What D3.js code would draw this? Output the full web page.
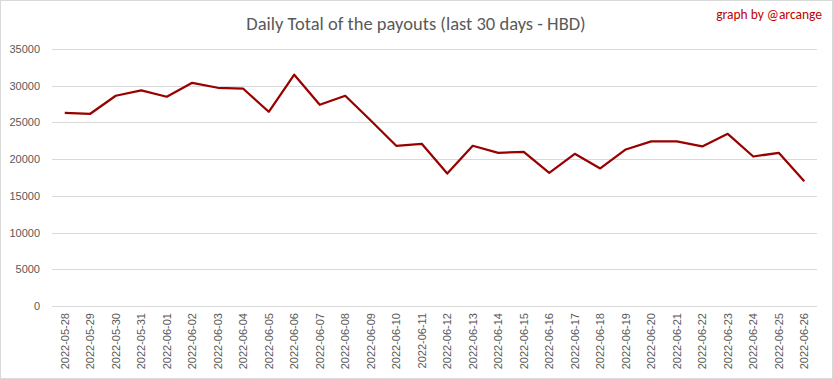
<!DOCTYPE html>
<html>
<head>
<meta charset="utf-8">
<script src="https://cdn.jsdelivr.net/npm/d3@7"></script>
<style>
  body { margin: 0; background: #fff; }
  svg { display: block; font-family: Carlito, Calibri, "Open Sans", sans-serif; }
</style>
</head>
<body>
<div id="chart"></div>
<script>
(function () {
  'use strict';

  // chart data
  var dates = [
    '2022-05-28', '2022-05-29', '2022-05-30', '2022-05-31', '2022-06-01', '2022-06-02',
    '2022-06-03', '2022-06-04', '2022-06-05', '2022-06-06', '2022-06-07', '2022-06-08',
    '2022-06-09', '2022-06-10', '2022-06-11', '2022-06-12', '2022-06-13', '2022-06-14',
    '2022-06-15', '2022-06-16', '2022-06-17', '2022-06-18', '2022-06-19', '2022-06-20',
    '2022-06-21', '2022-06-22', '2022-06-23', '2022-06-24', '2022-06-25', '2022-06-26'
  ];
  var payouts = [
    26300, 26180, 28630, 29360, 28500, 30400,
    29720, 29590, 26450, 31500, 27400, 28630,
    25270, 21820, 22090, 18040, 21820, 20860,
    21000, 18130, 20730, 18730, 21320, 22410,
    22410, 21730, 23450, 20360, 20860, 17000
  ];
  var yTicks = [0, 5000, 10000, 15000, 20000, 25000, 30000, 35000];

  var width = 833;
  var height = 379;
  var margin = { top: 49, right: 16, bottom: 73, left: 52 };

  var svg = d3.select('#chart').append('svg')
    .attr('width', width)
    .attr('height', height);

  // outer chart border
  svg.append('rect')
    .attr('x', 0.5).attr('y', 0.5)
    .attr('width', width - 1).attr('height', height - 1)
    .attr('fill', '#fff')
    .attr('stroke', '#d9d9d9');

  var x = d3.scaleBand()
    .domain(dates)
    .range([margin.left, width - margin.right]);

  var y = d3.scaleLinear()
    .domain([0, 35000])
    .range([height - margin.bottom, margin.top]);

  // gridlines
  svg.append('g')
    .selectAll('line')
    .data(yTicks)
    .enter()
    .append('line')
    .attr('x1', margin.left)
    .attr('x2', width - margin.right)
    .attr('y1', function (d) { return Math.round(y(d)) + 0.5; })
    .attr('y2', function (d) { return Math.round(y(d)) + 0.5; })
    .attr('stroke', '#d9d9d9')
    .attr('stroke-width', 1);

  // y axis labels
  var yAxis = d3.axisLeft(y).tickValues(yTicks).tickFormat(d3.format('d')).tickSize(0).tickPadding(12);
  var gy = svg.append('g')
    .attr('transform', 'translate(' + margin.left + ',0)')
    .call(yAxis);
  gy.select('.domain').remove();
  gy.selectAll('text')
    .attr('fill', '#595959')
    .style('font-size', '11px');

  // x axis labels, rotated
  var xAxis = d3.axisBottom(x).tickSize(0).tickPadding(0);
  var gx = svg.append('g')
    .attr('transform', 'translate(0,' + (height - margin.bottom) + ')')
    .call(xAxis);
  gx.select('.domain').remove();
  gx.selectAll('text')
    .attr('fill', '#595959')
    .style('font-size', '11px')
    .attr('text-anchor', 'end')
    .attr('dy', '0.35em')
    .attr('transform', 'translate(0,7) rotate(-90)')
    .attr('x', 0)
    .attr('y', 0);

  // series line
  var line = d3.line()
    .x(function (d, i) { return x(dates[i]) + x.bandwidth() / 2; })
    .y(function (d) { return y(d); });

  svg.append('path')
    .datum(payouts)
    .attr('fill', 'none')
    .attr('stroke', '#990000')
    .attr('stroke-width', 2.25)
    .attr('stroke-linejoin', 'round')
    .attr('d', line);

  // title
  svg.append('text')
    .attr('x', 416)
    .attr('y', 30)
    .attr('text-anchor', 'middle')
    .attr('fill', '#595959')
    .style('font-size', '18.5px')
    .text('Daily Total of the payouts (last 30 days - HBD)');

  svg.append('text')
    .attr('x', 822)
    .attr('y', 19)
    .attr('text-anchor', 'end')
    .attr('fill', '#c00000')
    .style('font-size', '13.5px')
    .text('graph by @arcange');
})();
</script>
</body>
</html>
